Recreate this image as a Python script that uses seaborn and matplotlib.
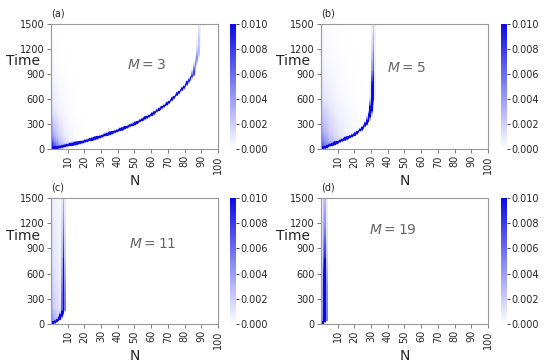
import numpy as np
import matplotlib
matplotlib.use("Agg")
import matplotlib.pyplot as plt
import seaborn as sns
from matplotlib.colors import LinearSegmentedColormap

sns.set_style("white")
plt.rcParams['font.family'] = ['DejaVu Sans']
plt.rcParams['mathtext.fontset'] = 'dejavusans'

# grid of the heatmaps
t_max = 1500
t_step = 10
n_max = 100
x_ticks = [10, 20, 30, 40, 50, 60, 70, 80, 90, 100]
y_ticks = [0, 300, 600, 900, 1200, 1500]
cbar_ticks = [0.000, 0.002, 0.004, 0.006, 0.008, 0.010]

panel_tags = ["(a)", "(b)", "(c)", "(d)"]
m_values = [3, 5, 11, 19]

# ridge of the distribution (time -> N)
ridge_t = {
    3: [0, 44, 90, 150, 220, 300, 410, 550, 750, 890, 1150, 1500],
    5: [0, 40, 80, 171, 250, 330, 470, 630, 1500],
    11: [0, 30, 60, 100, 139, 170, 1500],
    19: [0, 20, 45, 1500],
}
ridge_n = {
    3: [0, 10, 20, 30, 40, 50, 60, 70, 80, 85, 88, 89],
    5: [0, 5, 10, 20, 25, 28, 30, 31, 31.5],
    11: [0, 3, 5, 6, 7, 7.5, 7.5],
    19: [0, 1.5, 2.3, 2.3],
}
# peak height along the ridge
peak_t = {
    3: [0, 700, 950, 1250, 1500],
    5: [0, 650, 950, 1250, 1500],
    11: [0, 380, 800, 1200, 1500],
    19: [0, 450, 800, 1150, 1500],
}
peak_v = {
    3: [0.02, 0.016, 0.007, 0.0025, 0.001],
    5: [0.02, 0.02, 0.008, 0.004, 0.002],
    11: [0.025, 0.02, 0.009, 0.005, 0.003],
    19: [0.025, 0.02, 0.009, 0.005, 0.003],
}
# ridge half-thickness along N and along time
width_n = {3: 0.6, 5: 0.6, 11: 0.6, 19: 0.7}
width_t = {3: 11, 5: 11, 11: 11, 19: 11}
# diffuse background left of the ridge
bg_t = {
    3: [0, 150, 450, 900, 1500],
    5: [0, 200, 600, 1100, 1500],
    11: [0, 200, 700, 1500],
    19: [0, 300, 900, 1500],
}
bg_v = {
    3: [0.012, 0.005, 0.0016, 0.0005, 0.0],
    5: [0.008, 0.004, 0.0015, 0.0005, 0.0002],
    11: [0.006, 0.003, 0.0018, 0.001],
    19: [0.005, 0.003, 0.0015, 0.0008],
}
bg_len = {3: 5, 5: 8, 11: 5, 19: 3}

label_pos = {3: (57, 1008), 5: (51, 972), 11: (61, 952), 19: (43, 1119)}

# axes boxes in figure fraction [left, bottom, width, height]
ax_boxes = [
    [0.0927, 0.5907, 0.3036, 0.3434],
    [0.5836, 0.5907, 0.3036, 0.3434],
    [0.0927, 0.1099, 0.3036, 0.3462],
    [0.5836, 0.1099, 0.3036, 0.3462],
]
cbar_x = [0.418, 0.911, 0.418, 0.911]

cmap = LinearSegmentedColormap.from_list("wb", ["#ffffff", "#0a0ae6"])


def build_matrix(m):
    times = np.arange(0, t_max, t_step) + t_step / 2
    ns = np.arange(n_max) + 0.5
    rn = np.array(ridge_n[m], dtype=float)
    rt = np.array(ridge_t[m], dtype=float)
    centre = np.interp(times, rt, rn)
    peak = np.interp(times, peak_t[m], peak_v[m])
    bg = np.interp(times, bg_t[m], bg_v[m])
    # time at which the ridge reaches each N (only inside the ridge range)
    t_at_n = np.interp(ns, rn, rt)
    inside = ns <= rn.max()
    mat = np.zeros((len(times), n_max))
    for i in range(len(times)):
        g_n = np.exp(-0.5 * ((ns - centre[i]) / width_n[m]) ** 2)
        g_t = np.exp(-0.5 * ((times[i] - t_at_n) / width_t[m]) ** 2)
        g_t[~inside] = 0
        row = peak[i] * np.maximum(g_n, g_t)
        left = ns < centre[i]
        row[left] += bg[i] * np.exp(-ns[left] / bg_len[m])
        mat[i] = row
    return mat


fig = plt.figure(figsize=(5.5, 3.64), dpi=100)

for k, m in enumerate(m_values):
    box = ax_boxes[k]
    ax = fig.add_axes(box)
    cax = fig.add_axes([cbar_x[k], box[1], 0.011, box[3]])
    sns.heatmap(build_matrix(m), ax=ax, cmap=cmap, vmin=0, vmax=0.01,
                cbar_ax=cax, xticklabels=False, yticklabels=False,
                rasterized=True)
    ax.invert_yaxis()
    ax.set_xticks(x_ticks)
    ax.set_xticklabels([str(v) for v in x_ticks], rotation=90)
    ax.set_yticks([v / t_step for v in y_ticks])
    ax.set_yticklabels([str(v) for v in y_ticks])
    ax.tick_params(axis="both", length=3, width=0.6, color="#666",
                   labelsize=7, pad=1.5, bottom=True, left=True)
    for s in ax.spines.values():
        s.set_visible(True)
        s.set_color("#999999")
        s.set_linewidth(0.8)
    ax.set_xlabel("N", fontsize=10, labelpad=0)
    ax.set_ylabel("")
    ax.text(-0.17, 0.7, "Time", transform=ax.transAxes, fontsize=10,
            ha="center", va="center")
    ax.text(0.0, 1.04, panel_tags[k], transform=ax.transAxes, fontsize=7,
            ha="left", va="bottom")
    lx, ly = label_pos[m]
    ax.text(lx, ly / t_step, f"$M = {m}$", fontsize=10, color="#666666",
            ha="center", va="center")

    cbar = ax.collections[0].colorbar
    cbar.set_ticks(cbar_ticks)
    cbar.set_ticklabels([f"{v:.3f}" for v in cbar_ticks])
    cbar.outline.set_visible(False)
    cax.tick_params(labelsize=7, length=2, width=0.6, pad=1)

fig.savefig("out.png", dpi=100)
